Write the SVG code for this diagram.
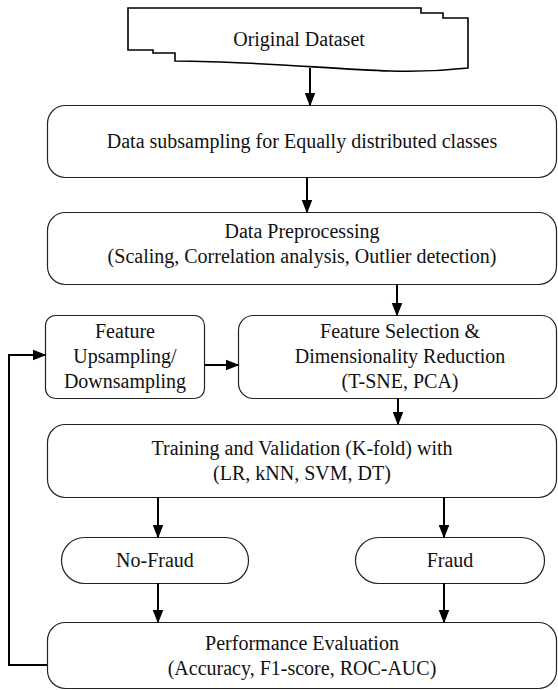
<svg xmlns="http://www.w3.org/2000/svg" width="558" height="690" viewBox="0 0 558 690">
<style>
.n{fill:#fff;stroke:#222;stroke-width:1.2}
.t{font-family:"Liberation Serif","Times New Roman",serif;font-size:20px;fill:#111;text-anchor:middle}
.c{fill:none;stroke:#000;stroke-width:2}
</style>
<defs>
<marker id="ah" markerUnits="userSpaceOnUse" markerWidth="14" markerHeight="18" refX="16" refY="7" orient="auto" viewBox="0 0 18 14">
<path d="M0,0 L18,7 L0,14 Z" fill="#000"/>
</marker>
</defs>
<rect width="558" height="690" fill="#fff"/>
<g id="original">
<path class="n" style="stroke:#000;stroke-width:1.6" d="M128,8 H421 V13 H443 V18 H468 V68 C450,70 420,72 390,71 C330,69 250,61 175,61 V53 H153 V50 H128 Z"/>
<text class="t" x="299" y="46">Original Dataset</text>
</g>
<g id="subsampling">
<rect class="n" x="47.5" y="105.5" width="509" height="72" rx="18"/>
<text class="t" x="302" y="148">Data subsampling for Equally distributed classes</text>
</g>
<g id="preprocessing">
<rect class="n" x="47.5" y="212.5" width="509" height="72" rx="18"/>
<text class="t" x="302" y="238">Data Preprocessing</text>
<text class="t" x="302" y="263">(Scaling, Correlation analysis, Outlier detection)</text>
</g>
<g id="upsampling">
<rect class="n" x="45.5" y="315.5" width="159" height="83" rx="10"/>
<text class="t" x="125" y="338">Feature</text>
<text class="t" x="125" y="363">Upsampling/</text>
<text class="t" x="125" y="388">Downsampling</text>
</g>
<g id="selection">
<rect class="n" x="238.5" y="315.5" width="318" height="83" rx="15"/>
<text class="t" x="400" y="338">Feature Selection &amp;</text>
<text class="t" x="400" y="363">Dimensionality Reduction</text>
<text class="t" x="400" y="388">(T-SNE, PCA)</text>
</g>
<g id="training">
<rect class="n" x="47.5" y="424.5" width="509" height="73" rx="18"/>
<text class="t" x="302" y="455">Training and Validation (K-fold) with</text>
<text class="t" x="302" y="480">(LR, kNN, SVM, DT)</text>
</g>
<g id="nofraud">
<rect class="n" x="61.5" y="537.5" width="187" height="46" rx="23"/>
<text class="t" x="155" y="567">No-Fraud</text>
</g>
<g id="fraud">
<rect class="n" x="355.5" y="537.5" width="189" height="46" rx="23"/>
<text class="t" x="450" y="567">Fraud</text>
</g>
<g id="performance">
<rect class="n" x="47.5" y="622.5" width="509" height="66" rx="18"/>
<text class="t" x="302" y="650">Performance Evaluation</text>
<text class="t" x="302" y="675">(Accuracy, F1-score, ROC-AUC)</text>
</g>
<g id="connectors">
<path class="c" marker-end="url(#ah)" d="M310,68 V105"/>
<path class="c" marker-end="url(#ah)" d="M307,177 V212"/>
<path class="c" marker-end="url(#ah)" d="M397,284 V315"/>
<path class="c" marker-end="url(#ah)" d="M204,365 H238"/>
<path class="c" marker-end="url(#ah)" d="M398,398 V424"/>
<path class="c" marker-end="url(#ah)" d="M158,497 V537"/>
<path class="c" marker-end="url(#ah)" d="M444,497 V537"/>
<path class="c" marker-end="url(#ah)" d="M158,583 V622"/>
<path class="c" marker-end="url(#ah)" d="M444,583 V622"/>
<path class="c" marker-end="url(#ah)" d="M47,665 H9 V355 H45"/>
</g>
</svg>
